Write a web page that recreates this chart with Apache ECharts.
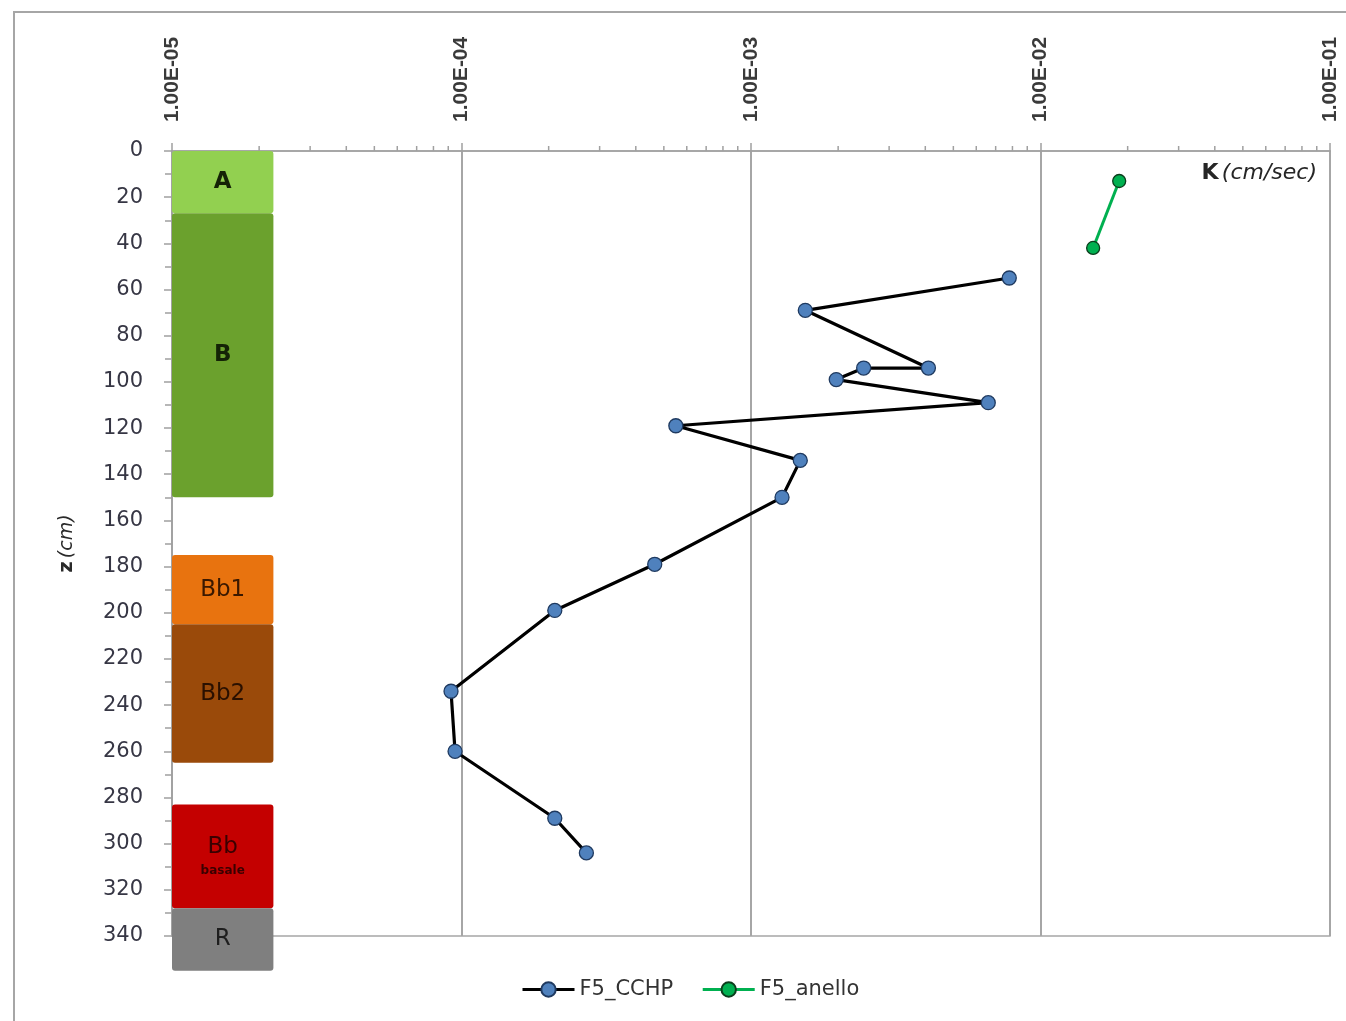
<!DOCTYPE html>
<html>
<head>
<meta charset="utf-8">
<script src="https://cdn.jsdelivr.net/npm/echarts@6/dist/echarts.min.js"></script>
<style>
  html, body { margin: 0; padding: 0; background: #ffffff; }
  #chart { width: 1346px; height: 1021px; }
</style>
</head>
<body>
<div id="chart"></div>
<script>
// Profile F5: hydraulic conductivity K (cm/sec) against depth z (cm)

// Tick labels of the logarithmic K axis
const kTickValues = [1e-5, 1e-4, 1e-3, 1e-2, 1e-1];
const kTickLabels = ['1.00E-05', '1.00E-04', '1.00E-03', '1.00E-02', '1.00E-01'];

// Series F5_CCHP
const cchpK = [7.8e-3, 1.54e-3, 4.1e-3, 2.45e-3, 1.97e-3, 6.6e-3, 5.5e-4, 1.48e-3, 1.28e-3, 4.65e-4, 2.1e-4, 9.2e-5, 9.5e-5, 2.1e-4, 2.7e-4];
const cchpZ = [55, 69, 94, 94, 99, 109, 119, 134, 150, 179, 199, 234, 260, 289, 304];

// Series F5_anello
const anelloK = [1.87e-2, 1.52e-2];
const anelloZ = [13, 42];

// Soil horizons (depth in cm)
const horizonNames = ['A', 'B', 'Bb1', 'Bb2', 'Bb', 'R'];
const horizonNotes = ['', '', '', '', 'basale', ''];
const horizonTop = [0, 27, 175, 205, 283, 328];
const horizonBottom = [27, 150, 205, 265, 328, 355];

// Horizon fill colours and label colours
const horizonFill = ['#92D050', '#6BA12D', '#E8730F', '#9A4A0A', '#C40000', '#7F7F7F'];
const horizonInk = ['#142306', '#142306', '#3A1800', '#2A1000', '#3A0000', '#1E1E1E'];

// Column drawn for the horizon strip, in K units
const stripLeftK = 1e-5;
const stripRightK = 2.24e-5;

// Logarithmic minor ticks (2..9 within each decade)
const minorKTicks = [];
for (let e = -5; e < -1; e++) {
  for (let m = 2; m <= 9; m++) minorKTicks.push(m * Math.pow(10, e));
}

const chart = echarts.init(document.getElementById('chart'), null, { renderer: 'canvas' });

const pair = (xs, ys) => xs.map((x, i) => [x, ys[i]]);

const option = {
  animation: false,
  backgroundColor: '#ffffff',
  grid: {
    left: 172, right: 16, top: 151, bottom: 85,
    show: true, borderColor: '#a6a6a6', borderWidth: 1.5, backgroundColor: 'transparent'
  },
  legend: {
    data: ['F5_CCHP', 'F5_anello'],
    left: 516, top: 974,
    itemWidth: 52, itemHeight: 18, itemGap: 28,
    lineStyle: { width: 3 },
    textStyle: { fontFamily: 'DejaVu Sans', fontSize: 21, color: '#333333' }
  },
  xAxis: {
    type: 'log', logBase: 10, min: 1e-5, max: 1e-1, splitNumber: 4,
    position: 'top',
    axisLine: { show: true, lineStyle: { color: '#a0a0a0', width: 1.5 } },
    axisTick: { show: true, length: 8, lineStyle: { color: '#a0a0a0', width: 1.5 } },
    splitLine: { show: true, lineStyle: { color: '#a6a6a6', width: 2 } },
    axisLabel: {
      rotate: 90, margin: 29,
      fontFamily: 'Liberation Sans', fontSize: 21, fontWeight: 'bold', color: '#3a3a3a',
      formatter: function (v) {
        let best = 0;
        kTickValues.forEach((t, i) => {
          if (Math.abs(Math.log10(t) - Math.log10(v)) < Math.abs(Math.log10(kTickValues[best]) - Math.log10(v))) best = i;
        });
        return kTickLabels[best];
      }
    }
  },
  yAxis: {
    type: 'value', inverse: true, min: 0, max: 340, interval: 20,
    name: '{b|z} {i|(cm)}',
    nameLocation: 'middle', nameRotate: 90, nameGap: 95,
    nameTextStyle: {
      rich: {
        b: { fontFamily: 'DejaVu Sans', fontSize: 19, fontWeight: 'bold', color: '#2a2a2a' },
        i: { fontFamily: 'DejaVu Sans', fontSize: 19, fontStyle: 'italic', color: '#2a2a2a' }
      }
    },
    axisLine: { show: true, lineStyle: { color: '#a0a0a0', width: 1.5 } },
    axisTick: { show: true, length: 8, lineStyle: { color: '#a0a0a0', width: 1.5 } },
    minorTick: { show: true, splitNumber: 2, length: 7, lineStyle: { color: '#a0a0a0', width: 1.5 } },
    splitLine: { show: false },
    axisLabel: { margin: 29, fontFamily: 'DejaVu Sans', fontSize: 21, color: '#363644' }
  },
  graphic: [
    {
      type: 'rect', silent: true, z: -10,
      shape: { x: 14, y: 12, width: 1400, height: 1100 },
      style: { fill: 'none', stroke: '#a6a6a6', lineWidth: 2 }
    },
    {
      type: 'text', right: 29, top: 162,
      style: {
        text: '{b|K} {i|(cm/sec)}',
        rich: {
          b: { fontFamily: 'DejaVu Sans', fontSize: 22, fontWeight: 'bold', fill: '#262626' },
          i: { fontFamily: 'DejaVu Sans', fontSize: 22, fontStyle: 'italic', fill: '#262626' }
        }
      }
    }
  ],
  series: [
    {
      name: 'horizons',
      type: 'custom',
      clip: false,
      silent: true,
      encode: { x: [0, 2], y: [1, 3] },
      data: horizonTop.map((t, i) => [stripLeftK, t, stripRightK, horizonBottom[i]]),
      renderItem: function (params, api) {
        const i = params.dataIndex;
        const p0 = api.coord([api.value(0), api.value(1)]);
        const p1 = api.coord([api.value(2), api.value(3)]);
        const note = horizonNotes[i];
        const text = note ? '{m|' + horizonNames[i] + '}\n{s|' + note + '}' : '{m|' + horizonNames[i] + '}';
        return {
          type: 'rect',
          shape: { x: p0[0], y: p0[1], width: p1[0] - p0[0], height: p1[1] - p0[1], r: 3 },
          style: { fill: horizonFill[i] },
          textContent: {
            style: {
              text: text,
              align: 'center',
              verticalAlign: 'middle',
              rich: {
                m: { fontFamily: 'DejaVu Sans', fontSize: 23, lineHeight: 30, fill: horizonInk[i], fontWeight: i < 2 ? 'bold' : 'normal', align: 'center' },
                s: { fontFamily: 'DejaVu Sans', fontSize: 12, lineHeight: 18, fill: horizonInk[i], fontWeight: 'bold', align: 'center' }
              }
            }
          },
          textConfig: { position: 'inside' }
        };
      }
    },
    {
      name: 'minorK',
      type: 'custom',
      clip: false,
      silent: true,
      encode: { x: 0, y: 1 },
      data: minorKTicks.map(v => [v, 0]),
      renderItem: function (params, api) {
        const p = api.coord([api.value(0), api.value(1)]);
        return {
          type: 'line',
          shape: { x1: p[0], y1: p[1], x2: p[0], y2: p[1] - 5 },
          style: { stroke: '#a0a0a0', lineWidth: 1.5 }
        };
      }
    },
    {
      name: 'F5_CCHP',
      type: 'line',
      data: pair(cchpK, cchpZ),
      symbol: 'circle',
      symbolSize: 14,
      lineStyle: { color: '#000000', width: 3.2 },
      itemStyle: { color: '#4F81BD', borderColor: '#1F3A60', borderWidth: 1.3 },
      z: 5
    },
    {
      name: 'F5_anello',
      type: 'line',
      data: pair(anelloK, anelloZ),
      symbol: 'circle',
      symbolSize: 13,
      lineStyle: { color: '#00B050', width: 3 },
      itemStyle: { color: '#00B050', borderColor: '#0B3D1C', borderWidth: 1.3 },
      z: 5
    }
  ]
};

chart.setOption(option);
</script>
</body>
</html>
